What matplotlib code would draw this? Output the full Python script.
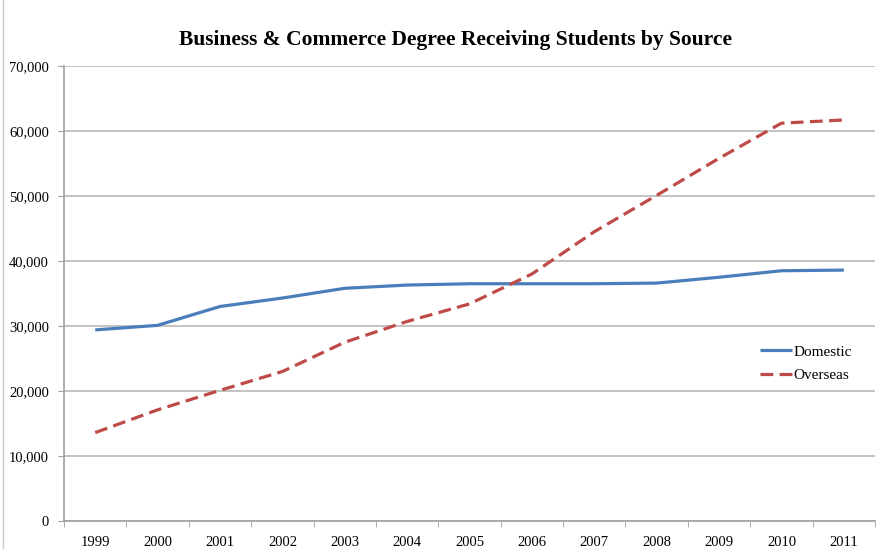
import numpy as np
import matplotlib
matplotlib.use("Agg")
import matplotlib.pyplot as plt
from matplotlib.ticker import FuncFormatter, FixedLocator

# Datos
years = ['1999', '2000', '2001', '2002', '2003', '2004', '2005',
         '2006', '2007', '2008', '2009', '2010', '2011']
domestic = [29400, 30100, 33000, 34300, 35800, 36300, 36500,
            36500, 36500, 36600, 37500, 38500, 38600]
overseas = [13600, 17100, 20100, 23000, 27500, 30700, 33400,
            38000, 44500, 50100, 55800, 61200, 61700]

plt.rcParams['font.family'] = ['Liberation Serif', 'DejaVu Serif']

fig = plt.figure(figsize=(8.87, 5.49), dpi=100)
ax = fig.add_axes([0.0722, 0.051, 0.9143, 0.8288])

x = np.arange(len(years))
ax.plot(x, domestic, color='#4A7EBB', lw=2.3, label='Domestic',
        solid_capstyle='butt')
ax.plot(x, overseas, color='#BE4B48', lw=2.3, label='Overseas',
        linestyle=(0, (4, 2)), dash_capstyle='butt')

ax.set_xlim(-0.5, len(years) - 0.5)
ax.set_ylim(0, 70000)
ax.set_yticks(np.arange(0, 70001, 10000))
ax.yaxis.set_major_formatter(FuncFormatter(lambda v, p: '{:,.0f}'.format(v)))

# eje de categorias: marcas entre categorias, etiquetas en el centro
ax.set_xticks(x)
ax.set_xticklabels(years)
ax.xaxis.set_minor_locator(FixedLocator(np.arange(-0.5, len(years), 1.0)))
ax.tick_params(axis='x', which='major', length=0, pad=11, labelsize=10.5)
ax.tick_params(axis='x', which='minor', length=4, color='#A0A0A0', direction='out')
ax.tick_params(axis='y', length=4, color='#A0A0A0', pad=7, labelsize=10.5)

ax.grid(axis='y', color='#BEBEBE', lw=1.3)
ax.set_axisbelow(True)
for s in ['top', 'right']:
  ax.spines[s].set_visible(False)
ax.spines['left'].set_color('#A0A0A0')
ax.spines['bottom'].set_color('#A0A0A0')
ax.spines['left'].set_linewidth(1.2)
ax.spines['bottom'].set_linewidth(1.2)

leg = ax.legend(loc='upper left', bbox_to_anchor=(0.851, 0.40), frameon=False,
                fontsize=11, handlelength=2.1, handletextpad=0.05,
                labelspacing=0.65, borderaxespad=0)

fig.text(0.513, 0.928, 'Business & Commerce Degree Receiving Students by Source',
         ha='center', va='center', fontsize=15.5, fontweight='bold')

# borde izquierdo del area del grafico
fig.add_artist(plt.Line2D([0.003, 0.003], [0, 1], color='#C8C8C8', lw=1,
                          transform=fig.transFigure))

fig.savefig('out.png', dpi=100)
